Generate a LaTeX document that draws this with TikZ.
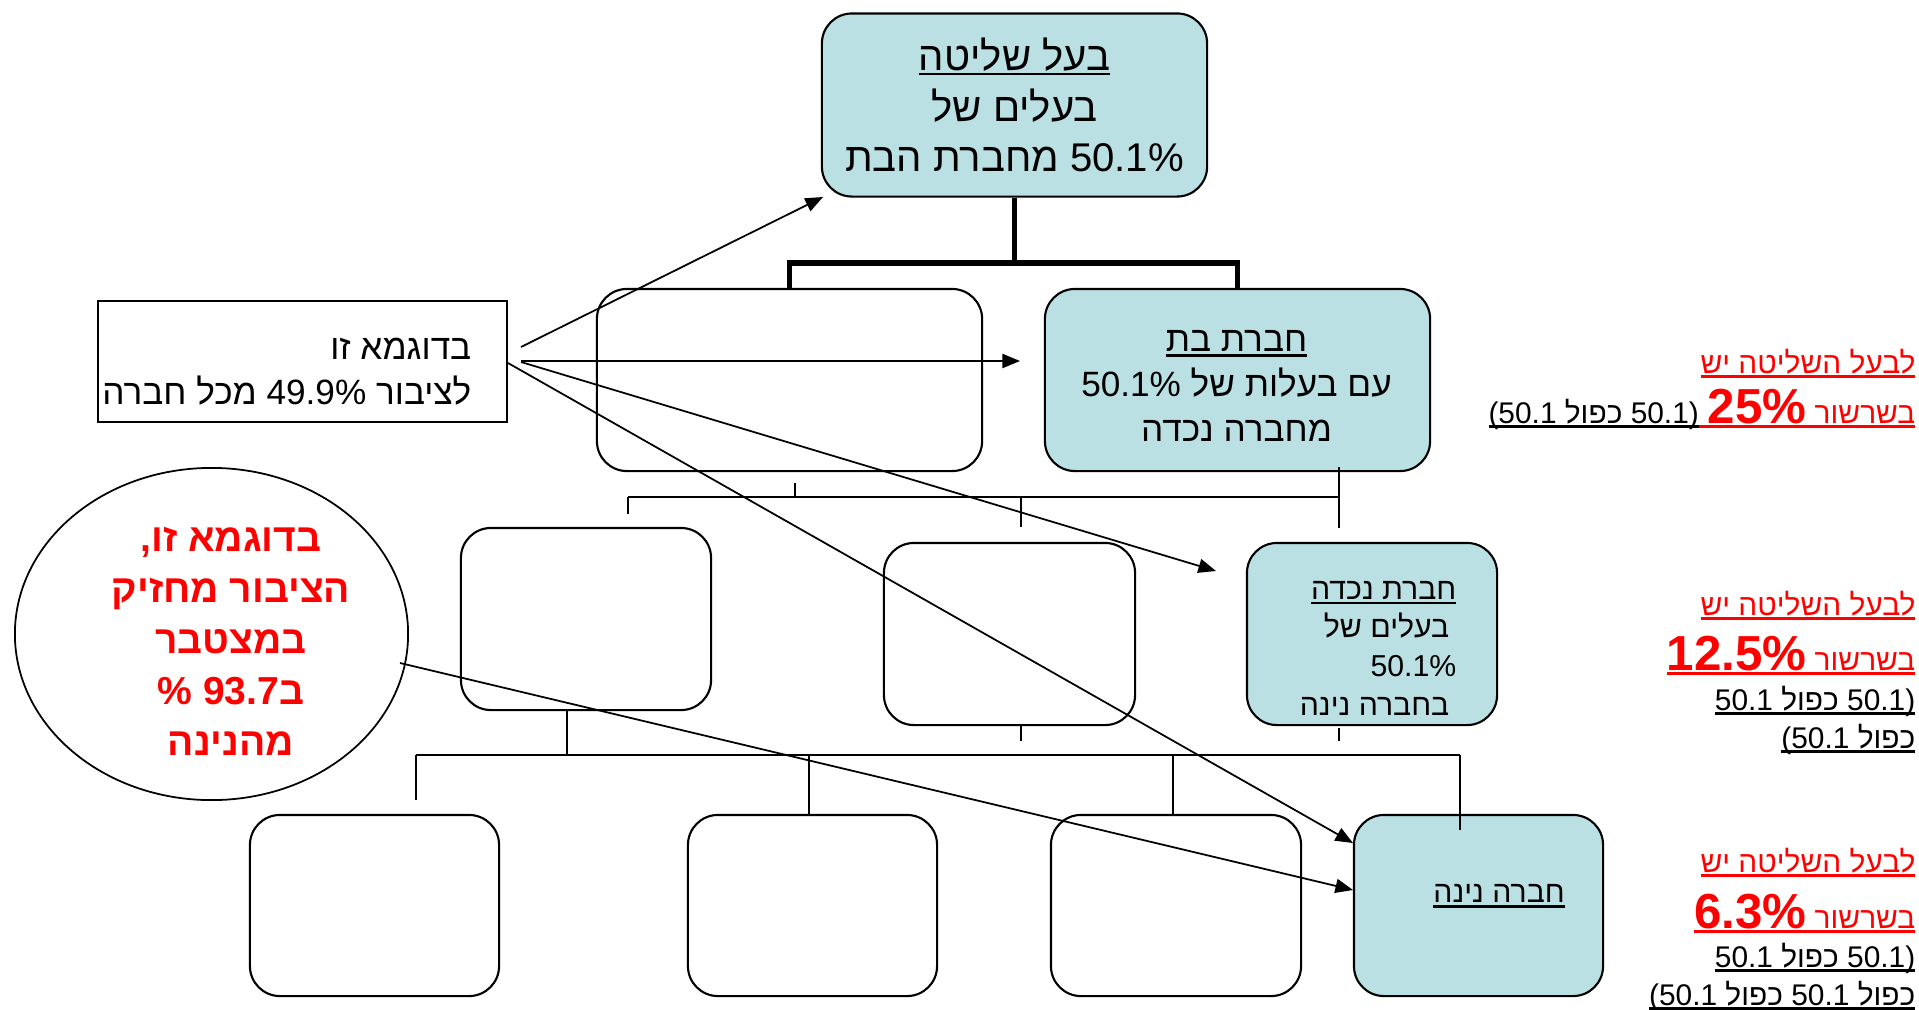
\documentclass[tikz,border=0pt]{standalone}
\usepackage{fontspec}
\setmainfont{Liberation Sans}[Script=Hebrew]
\newfontfamily\latf{Liberation Sans}
\TeXXeTstate=1
\usetikzlibrary{arrows.meta,shapes.geometric}

\definecolor{boxfill}{RGB}{186,224,228}
\newcommand\heb[1]{\beginR#1\endR}
\newcommand\lat[1]{\beginL{\latf#1}\endL{}}
\newcommand\ulx[2][black]{\hbox{\setbox0=\hbox{#2}\rlap{\color{#1}\rule[-1.4pt]{\wd0}{0.7pt}}\box0}}
\newcommand\fsz[2]{\fontsize{#1}{#2}\selectfont}

\tikzset{
  cbox/.style={draw, line width=0.6pt, rounded corners=0.3cm, fill=boxfill, inner sep=0pt},
  ebox/.style={draw, line width=0.6pt, rounded corners=0.3cm, inner sep=0pt},
  trunk/.style={line width=1.5pt},
  bus/.style={line width=0.75pt},
  drop/.style={line width=0.45pt},
  ptr/.style={line width=0.5pt, -{Triangle[length=5pt,width=4pt]}},
  rtxt/.style={anchor=base east, inner sep=0pt, font=\fsz{8.5}{10.5}}
}

\begin{document}
\begin{tikzpicture}[x=0.01cm, y=-0.01cm]
    \useasboundingbox (0,0) rectangle (1919,1009);

    % Bait shlita
    \node[cbox, minimum width=3.85cm, minimum height=1.83cm, align=center, font=\fsz{11.4}{14.4}] (root) at (1014.5,105)
        {\ulx{\heb{בעל שליטה}}\\\heb{בעלים של}\\\heb{\lat{50.1\%} מחברת הבת}};

    % Primo livello
    \node[ebox, minimum width=3.85cm, minimum height=1.82cm] (A) at (789.5,380) {};
    \node[cbox, minimum width=3.85cm, minimum height=1.82cm] (bat) at (1237.5,380) {};
    \node[align=center, inner sep=0pt, font=\fsz{10}{12.7}] (battxt) at (1236.5,386)
        {\ulx{\heb{חברת בת}}\\\heb{עם בעלות של \lat{50.1\%}}\\\heb{מחברה נכדה}};
    \coordinate (tj) at (1014.5,263);
    \draw[trunk] (root.south) -- (tj);
    \draw[trunk] (A.north) |- (tj) -| (bat.north);

    % Secondo livello
    \node[ebox, minimum width=2.5cm, minimum height=1.82cm] (B1) at (586,619) {};
    \node[ebox, minimum width=2.51cm, minimum height=1.82cm] (B2) at (1009.5,634) {};
    \node[cbox, minimum width=2.5cm, minimum height=1.82cm] (nekhda) at (1372,634) {};
    \node[anchor=east, align=right, inner sep=0pt, font=\fsz{8.6}{11}] (nekhdatxt) at (1457,648)
        {\ulx{\heb{חברת נכדה}}\\\heb{\kern2pt בעלים של}\\\lat{50.1\%}\\\heb{\kern2pt בחברה נינה}};
    \draw[bus] (628,497) -- (1339,497);
    \draw[drop] (795,483) -- (795,497);
    \draw[drop] (628,497) -- (628,514);
    \draw[drop] (1021,497) -- (1021,527);
    \draw[drop] (1339,467) -- (1339,528);

    % Terzo livello
    \node[ebox, minimum width=2.49cm, minimum height=1.81cm] (C1) at (374.5,905.5) {};
    \node[ebox, minimum width=2.49cm, minimum height=1.81cm] (C2) at (812.5,905.5) {};
    \node[ebox, minimum width=2.5cm, minimum height=1.81cm] (C3) at (1176,905.5) {};
    \node[cbox, minimum width=2.49cm, minimum height=1.81cm] (nina) at (1478.5,905.5) {};
    \node[inner sep=0pt, font=\fsz{8.6}{11}] (ninatxt) at (1499,896) {\ulx{\heb{חברה נינה}}};
    \draw[bus] (416,755) -- (1460,755);
    \draw[drop] (567,710) -- (567,755);
    \draw[drop] (1021,725) -- (1021,741);
    \draw[drop] (1339,728) -- (1339,741);
    \draw[drop] (416,755) -- (416,800);
    \draw[drop] (809,755) -- (809,815);
    \draw[drop] (1173,755) -- (1173,815);
    \draw[drop] (1460,755) -- (1460,830);

    % Pubblico
    \node[draw, line width=0.6pt, minimum width=4.09cm, minimum height=1.21cm] (leg) at (302.5,361.5) {};
    \node[anchor=east, align=right, inner sep=0pt, font=\fsz{10}{12.8}] (legtxt) at (472,372)
        {\heb{בדוגמא זו}\\\heb{לציבור \lat{49.9\%} מכל חברה}};

    % Ellisse
    \node[ellipse, draw, line width=0.5pt, minimum width=3.93cm, minimum height=3.32cm] (circ) at (211.5,634) {};
    \node[align=center, text=red, inner sep=0pt, font=\fsz{11.1}{14.5}\bfseries] (circtxt) at (231,641)
        {\heb{בדוגמא זו,}\\\heb{הציבור מחזיק}\\\heb{במצטבר}\\\heb{ב\lat{93.7} \%}\\\heb{מהנינה}};

    % Frecce
    \coordinate (s1) at (521,347);
    \coordinate (s2) at (521,361);
    \coordinate (s3) at (521,362);
    \coordinate (s4) at (508,363);
    \coordinate (s5) at (400,663);
    \coordinate (e1) at (823,197);
    \coordinate (e2) at (1020,361);
    \coordinate (e3) at (1216,571);
    \coordinate (e4) at (1353,843);
    \coordinate (e5) at (1353,890);
    \draw[ptr] (s1) -- (e1);
    \draw[ptr] (s2) -- (e2);
    \draw[ptr] (s3) -- (e3);
    \draw[ptr] (s4) -- (e4);
    \draw[ptr] (s5) -- (e5);

    % Percentuali
    \node[rtxt, text=red] (p1a) at (1916,373) {\ulx[red]{\heb{לבעל השליטה יש}}};
    \node[rtxt] (p1b) at (1916,423)
        {\ulx{\heb{\lat{50.1)} כפול \lat{(50.1}}}\ulx[red]{\textcolor{red}{\heb{בשרשור \lat{\bfseries\fsz{14}{16}25\%}\hspace{0.3em}}}}};

    \node[rtxt, text=red] (p2a) at (1916,615) {\ulx[red]{\heb{לבעל השליטה יש}}};
    \node[rtxt, text=red] (p2b) at (1916,670) {\ulx[red]{\heb{בשרשור \lat{\bfseries\fsz{14}{16}12.5\%}}}};
    \node[rtxt] (p2c) at (1916,710) {\ulx{\heb{\lat{50.1)} כפול \lat{50.1}}}};
    \node[rtxt] (p2d) at (1916,748) {\ulx{\heb{כפול \lat{(50.1}}}};

    \node[rtxt, text=red] (p3a) at (1916,872) {\ulx[red]{\heb{לבעל השליטה יש}}};
    \node[rtxt, text=red] (p3b) at (1916,928) {\ulx[red]{\heb{בשרשור \lat{\bfseries\fsz{14}{16}6.3\%}}}};
    \node[rtxt] (p3c) at (1916,967) {\ulx{\heb{\lat{50.1)} כפול \lat{50.1}}}};
    \node[rtxt] (p3d) at (1916,1005) {\ulx{\heb{כפול \lat{50.1} כפול \lat{(50.1}}}};
\end{tikzpicture}
\end{document}
